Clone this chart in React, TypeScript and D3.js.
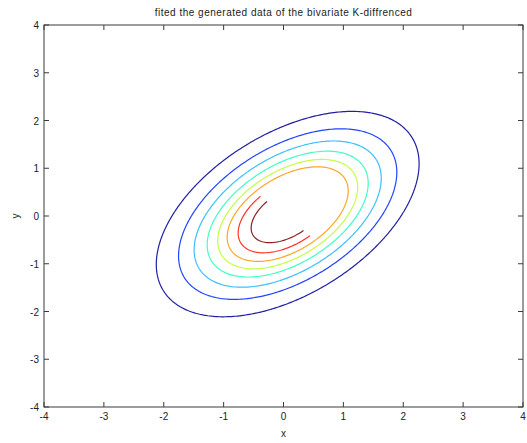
import React, { useEffect, useRef } from 'react';
import * as d3 from 'd3';

// fitted bivariate surface
const center = [0.07, 0.04];
const sigma = [1.0, 0.98];
const rho = 0.49;
const levels = [0.09, 0.19, 0.295, 0.405, 0.505, 0.6, 0.71, 0.83];
const levelColors = ['#2020a4', '#2244ff', '#3cc0ff', '#40ffc4', '#c4ff40', '#ffa628', '#ff3226', '#8c2020'];
// region with no data (upper-right of the peak)
const holeRadius = 0.97;
const holeCut = -0.08;

const ticks = [-4, -3, -2, -1, 0, 1, 2, 3, 4];
const title = 'fited the generated data of the bivariate K-diffrenced';

const App = () => {
  const svgRef = useRef<SVGSVGElement>(null);

  useEffect(() => {
    const W = 527;
    const H = 443;
    const margin = { top: 25, right: 4, bottom: 36, left: 44 };
    const x = d3.scaleLinear().domain([-4, 4]).range([margin.left, W - margin.right]);
    const y = d3.scaleLinear().domain([-4, 4]).range([H - margin.bottom, margin.top]);

    const svg = d3.select(svgRef.current).attr('width', W).attr('height', H);
    svg.selectAll('*').remove();

    // grid
    const n = 241;
    const gx = d3.scaleLinear().domain([0.5, n - 0.5]).range([-4, 4]);
    const gy = d3.scaleLinear().domain([0.5, n - 0.5]).range([-4, 4]);
    const mahal = (px: number, py: number) => {
      const dx = (px - center[0]) / sigma[0];
      const dy = (py - center[1]) / sigma[1];
      return Math.sqrt((dx * dx - 2 * rho * dx * dy + dy * dy) / (1 - rho * rho));
    };
    const values: number[] = new Array(n * n);
    const hole: number[] = new Array(n * n);
    for (let j = 0; j < n; j++) {
      for (let i = 0; i < n; i++) {
        const px = gx(i + 0.5);
        const py = gy(j + 0.5);
        const r = mahal(px, py);
        values[j * n + i] = Math.exp(-0.5 * r * r);
        const s = px - center[0] + (py - center[1]) - holeCut;
        hole[j * n + i] = Math.min(holeRadius - r, s);
      }
    }

    const proj = d3.geoTransform({
      point(px: number, py: number) {
        (this as any).stream.point(x(gx(px)), y(gy(py)));
      },
    });
    const path = d3.geoPath(proj);

    const contours = d3.contours().size([n, n]).thresholds(levels)(values);
    const holeShape = d3.contours().size([n, n]).thresholds([0])(hole)[0];

    const defs = svg.append('defs');
    const mask = defs.append('mask').attr('id', 'holeMask');
    mask.append('rect').attr('width', W).attr('height', H).attr('fill', 'white');
    mask.append('path').attr('d', path(holeShape as any)).attr('fill', 'black');

    svg
      .append('g')
      .attr('mask', 'url(#holeMask)')
      .selectAll('path')
      .data(contours)
      .enter()
      .append('path')
      .attr('d', (d: any) => path(d))
      .attr('fill', 'none')
      .attr('stroke', (d, i) => levelColors[i])
      .attr('stroke-width', 1.2)
      .attr('stroke-linejoin', 'round');

    // axes box
    const axisColor = '#3a3a3a';
    const fontFamily = 'Liberation Sans, Arial, sans-serif';
    const x0 = x(-4), x1 = x(4), y0 = y(-4), y1 = y(4);
    svg
      .append('rect')
      .attr('x', x0)
      .attr('y', y1)
      .attr('width', x1 - x0)
      .attr('height', y0 - y1)
      .attr('fill', 'none')
      .attr('stroke', axisColor)
      .attr('stroke-width', 1);

    const tl = 5;
    const tk = svg.append('g').attr('stroke', axisColor).attr('stroke-width', 1);
    ticks.forEach((t) => {
      tk.append('line').attr('x1', x(t)).attr('x2', x(t)).attr('y1', y0).attr('y2', y0 - tl);
      tk.append('line').attr('x1', x(t)).attr('x2', x(t)).attr('y1', y1).attr('y2', y1 + tl);
      tk.append('line').attr('x1', x0).attr('x2', x0 + tl).attr('y1', y(t)).attr('y2', y(t));
      tk.append('line').attr('x1', x1).attr('x2', x1 - tl).attr('y1', y(t)).attr('y2', y(t));
    });

    const lab = svg
      .append('g')
      .attr('font-family', fontFamily)
      .attr('font-size', 10)
      .attr('fill', '#222');
    ticks.forEach((t) => {
      lab
        .append('text')
        .attr('x', x(t))
        .attr('y', y0 + 13)
        .attr('text-anchor', 'middle')
        .text(t);
      lab
        .append('text')
        .attr('x', x0 - 5)
        .attr('y', y(t) + 4)
        .attr('text-anchor', 'end')
        .text(t);
    });

    lab
      .append('text')
      .attr('x', (x0 + x1) / 2)
      .attr('y', 16)
      .attr('text-anchor', 'middle')
      .attr('letter-spacing', 0.5)
      .text(title);
    lab
      .append('text')
      .attr('x', x(0))
      .attr('y', 437)
      .attr('text-anchor', 'middle')
      .text('x');
    lab
      .append('text')
      .attr('transform', `translate(19,${y(0)}) rotate(-90)`)
      .attr('text-anchor', 'middle')
      .text('y');
  }, []);

  return (
    <svg ref={svgRef} style={{ position: 'absolute', left: 0, top: 0, background: '#fff' }}></svg>
  );
};

export default App;
